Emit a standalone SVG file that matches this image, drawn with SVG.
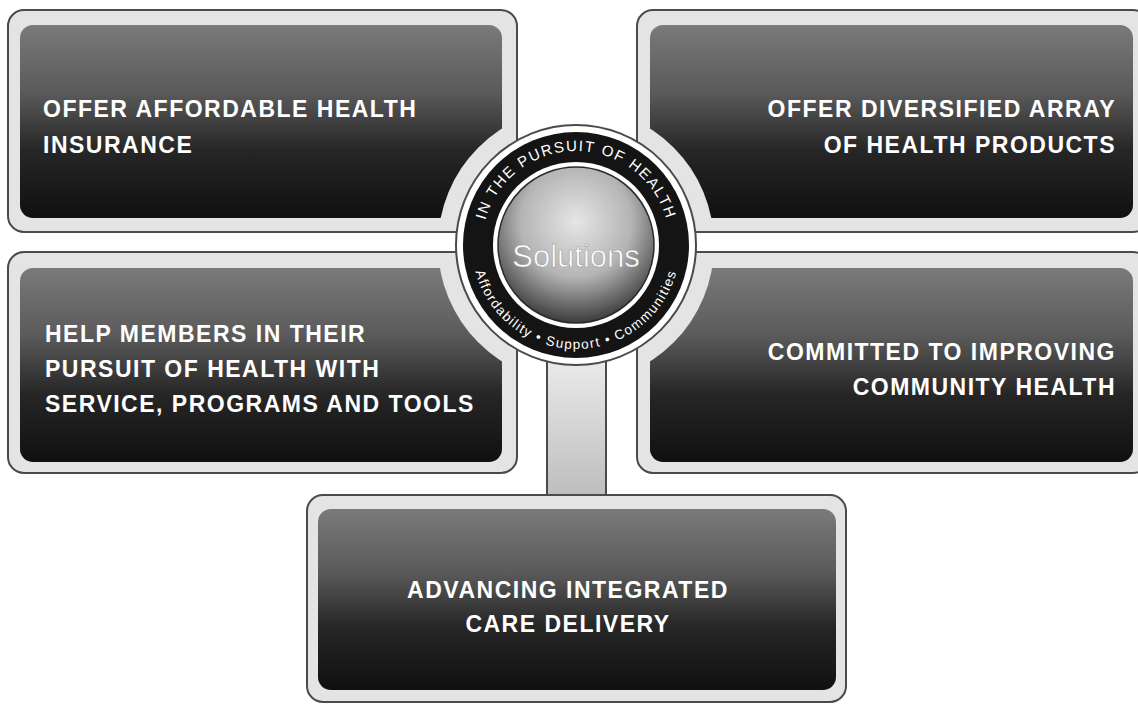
<svg xmlns="http://www.w3.org/2000/svg" width="1138" height="704" viewBox="0 0 1138 704">
<defs>
<style>
.frame{fill:#e4e4e4;stroke:#4a4a4a;stroke-width:2}
.dark{fill:url(#darkGrad)}
.lbl{font-family:"Liberation Sans",Arial,sans-serif;font-weight:bold;font-size:23px;letter-spacing:1.5px;fill:#ffffff}
.ring{font-family:"Liberation Sans",Arial,sans-serif;fill:#ffffff}
</style>
<linearGradient id="darkGrad" x1="0" y1="0" x2="0" y2="1">
<stop offset="0" stop-color="#7a7a7a"/>
<stop offset="0.35" stop-color="#5a5a5a"/>
<stop offset="0.65" stop-color="#262626"/>
<stop offset="1" stop-color="#101010"/>
</linearGradient>
<linearGradient id="stemGrad" x1="0" y1="0" x2="0" y2="1">
<stop offset="0" stop-color="#ececec"/>
<stop offset="1" stop-color="#bdbdbd"/>
</linearGradient>
<radialGradient id="sphere" cx="0.5" cy="0.35" r="0.65">
<stop offset="0" stop-color="#e6e6e6"/>
<stop offset="0.55" stop-color="#b4b4b4"/>
<stop offset="1" stop-color="#3c3c3c"/>
</radialGradient>
<mask id="outerCut" maskUnits="userSpaceOnUse" x="0" y="0" width="1138" height="704">
<rect x="0" y="0" width="1138" height="704" fill="#fff"/>
<circle cx="576" cy="245" r="120" fill="#000"/>
</mask>
<mask id="innerCut" maskUnits="userSpaceOnUse" x="0" y="0" width="1138" height="704">
<rect x="0" y="0" width="1138" height="704" fill="#fff"/>
<circle cx="576" cy="245" r="138" fill="#000"/>
</mask>
<path id="topArc" d="M 482,245 A 94 94 0 0 1 670,245"/>
<path id="botArc" d="M 472,245 A 104 104 0 0 0 680,245"/>
</defs>
<rect width="1138" height="704" fill="#ffffff"/>

<g id="connectors">
<rect x="547" y="355" width="59" height="142" fill="url(#stemGrad)" stroke="#4a4a4a" stroke-width="2"/>
</g>

<g id="node-affordable">
<rect class="frame" x="8" y="10" width="509" height="222" rx="16" mask="url(#outerCut)"/>
<rect class="dark" x="20" y="25" width="482" height="193" rx="13" mask="url(#innerCut)"/>
<text class="lbl" x="43" y="117">OFFER AFFORDABLE HEALTH</text>
<text class="lbl" x="43" y="153">INSURANCE</text>
</g>

<g id="node-diversified">
<rect class="frame" x="637" y="10" width="512" height="222" rx="16" mask="url(#outerCut)"/>
<rect class="dark" x="650" y="25" width="483" height="193" rx="13" mask="url(#innerCut)"/>
<text class="lbl" x="1116" y="117" text-anchor="end">OFFER DIVERSIFIED ARRAY</text>
<text class="lbl" x="1116" y="153" text-anchor="end">OF HEALTH PRODUCTS</text>
</g>

<g id="node-members">
<rect class="frame" x="8" y="252" width="509" height="221" rx="16" mask="url(#outerCut)"/>
<rect class="dark" x="20" y="268" width="482" height="194" rx="13" mask="url(#innerCut)"/>
<text class="lbl" x="45" y="342">HELP MEMBERS IN THEIR</text>
<text class="lbl" x="45" y="377">PURSUIT OF HEALTH WITH</text>
<text class="lbl" x="45" y="412">SERVICE, PROGRAMS AND TOOLS</text>
</g>

<g id="node-community">
<rect class="frame" x="637" y="252" width="512" height="221" rx="16" mask="url(#outerCut)"/>
<rect class="dark" x="650" y="268" width="483" height="194" rx="13" mask="url(#innerCut)"/>
<text class="lbl" x="1116" y="360" text-anchor="end">COMMITTED TO IMPROVING</text>
<text class="lbl" x="1116" y="395" text-anchor="end">COMMUNITY HEALTH</text>
</g>

<g id="node-integrated">
<rect class="frame" x="307" y="495" width="539" height="207" rx="16"/>
<rect class="dark" x="318" y="509" width="518" height="181" rx="13"/>
<text class="lbl" x="568" y="598" text-anchor="middle">ADVANCING INTEGRATED</text>
<text class="lbl" x="568" y="632" text-anchor="middle">CARE DELIVERY</text>
</g>

<g id="node-solutions">
<circle cx="576" cy="245" r="120" fill="#ffffff" stroke="#4a4a4a" stroke-width="2"/>
<circle cx="576" cy="245" r="113" fill="#141414"/>
<circle cx="576" cy="245" r="83" fill="#ffffff"/>
<circle cx="576" cy="245" r="78" fill="url(#sphere)" stroke="#2a2a2a" stroke-width="1.5"/>
<text class="ring" font-size="15" letter-spacing="1.6"><textPath href="#topArc" startOffset="50%" text-anchor="middle">IN THE PURSUIT OF HEALTH</textPath></text>
<text class="ring" font-size="13.5" letter-spacing="1.4"><textPath href="#botArc" startOffset="50%" text-anchor="middle">Affordability • Support • Communities</textPath></text>
<text x="576" y="267" text-anchor="middle" font-family="'Liberation Sans',Arial,sans-serif" font-size="31" fill="#ffffff" stroke="#9a9a9a" stroke-width="0.6">Solutions</text>
</g>
</svg>
